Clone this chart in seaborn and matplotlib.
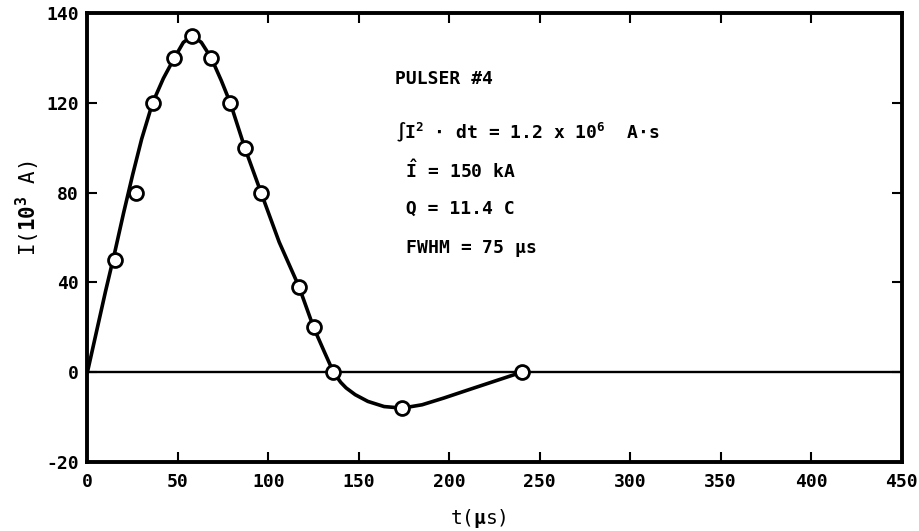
import numpy as np
import matplotlib
matplotlib.use("Agg")
import matplotlib.pyplot as plt
import seaborn as sns

# measured points (t in us, current in kA)
point_t = [15, 27, 36, 48, 58, 68.5, 79, 87, 96, 117, 125, 136, 174, 240]
point_i = [50, 80, 120, 140, 150, 140, 120, 100, 80, 38, 20, 0, -16, 0]

# fitted curve as drawn on the original
curve_t = [0, 5, 10, 15, 20, 25, 30, 36, 42, 48, 53, 58, 63, 68.5, 74, 79, 87, 96, 106, 117, 125, 131, 136,
           140, 143, 148, 155, 164, 174, 185, 197, 210, 225, 240]
curve_i = [0, 18, 36, 53, 71, 88, 104, 120, 131, 140, 147, 150, 147, 140, 130, 120, 100, 80, 58, 38, 20, 9, 0,
           -4.5, -7, -10, -13, -15.3, -16, -14.5, -11.5, -8, -4, 0]

# the axis is drawn with equal spacing but the end labels read 140 and -20
ytick_pos = [-40, 0, 40, 80, 120, 160]
ytick_lab = ["-20", "0", "40", "80", "120", "140"]
xticks = [0, 50, 100, 150, 200, 250, 300, 350, 400, 450]

notes = ["PULSER #4",
         r"$\int\!\mathrm{I}^2$ $\cdot$ dt = 1.2 x $10^6$  A$\cdot$s",
         r" $\hat{\mathrm{I}}$ = 150 kA",
         " Q = 11.4 C",
         r" FWHM = 75 $\mathrm{\mu}$s"]
note_y = [130.5, 107, 90, 73, 55]

sns.set_style("ticks")
plt.rcParams["font.family"] = ["DejaVu Sans Mono", "DejaVu Sans"]
plt.rcParams["font.weight"] = "bold"
plt.rcParams["text.color"] = "black"
plt.rcParams["axes.labelcolor"] = "black"
plt.rcParams["xtick.color"] = "black"
plt.rcParams["ytick.color"] = "black"
plt.rcParams["axes.edgecolor"] = "black"
plt.rcParams["mathtext.fontset"] = "custom"
plt.rcParams["mathtext.rm"] = "DejaVu Sans Mono:bold"
plt.rcParams["mathtext.it"] = "DejaVu Sans Mono:bold"
plt.rcParams["mathtext.bf"] = "DejaVu Sans Mono:bold"

fig = plt.figure(figsize=(9.2, 5.31), dpi=100)
ax = fig.add_axes([0.095, 0.13, 0.885, 0.845])

ax.axhline(0, color="black", lw=1.7, zorder=1)
sns.lineplot(x=curve_t, y=curve_i, sort=False, estimator=None, color="black", lw=2.6, ax=ax, zorder=2)
sns.scatterplot(x=point_t, y=point_i, marker="o", s=100, facecolor="white", edgecolor="black",
                linewidth=2, ax=ax, zorder=3)

ax.set_xlim(0, 450)
ax.set_ylim(-40, 160)
ax.set_xticks(xticks)
ax.set_xticklabels([str(v) for v in xticks])
ax.set_yticks(ytick_pos)
ax.set_yticklabels(ytick_lab)
ax.tick_params(direction="in", length=7, width=1.5, top=True, right=True, labelsize=13)
ax.tick_params(axis="y", pad=6)
ax.tick_params(axis="x", pad=8)
for s in ax.spines.values():
    s.set_linewidth(2.8)

ax.set_xlabel(r"t($\mathrm{\mu}$s)", fontsize=14)
ax.set_ylabel(r"I($10^3$ A)", fontsize=15)
ax.yaxis.set_label_coords(-0.056, 0.565)
ax.xaxis.set_label_coords(0.48, -0.1)

for txt, yy in zip(notes, note_y):
    ax.text(170, yy, txt, fontsize=13, va="center", ha="left")

fig.savefig("out.png", dpi=100)
